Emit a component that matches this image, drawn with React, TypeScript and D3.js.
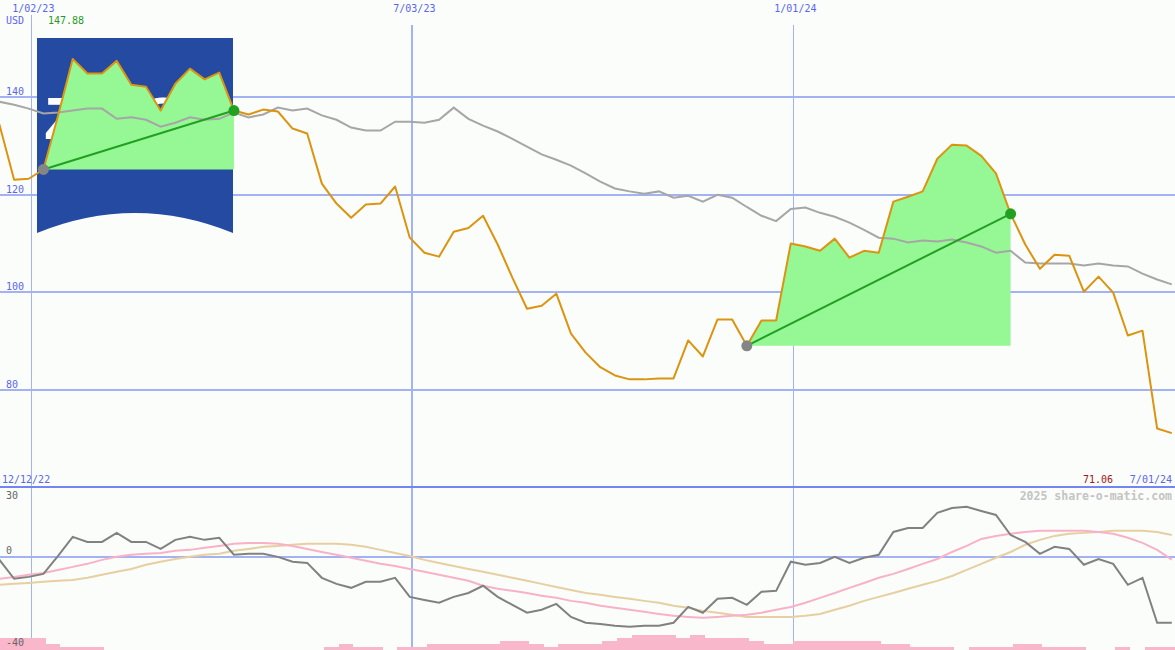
import React from "react";
import * as d3 from "d3";

// Weekly closing prices (USD), one per week, first week ending 12/11/22
const price: number[] = [
  135.2, 134.4, 123.1, 123.3, 125.2, 136.3, 147.88, 144.9, 144.9, 147.5,
  142.6, 142.2, 137.3, 142.8, 145.9, 143.7, 145.1, 137.3, 136.5, 137.5,
  137.1, 133.6, 132.6, 122.3, 118.2, 115.3, 118.0, 118.2, 121.7, 111.2,
  108.1, 107.3, 112.4, 113.2, 115.7, 109.8, 103.0, 96.6, 97.2, 99.7,
  91.5, 87.6, 84.6, 82.9, 82.1, 82.1, 82.3, 82.3, 90.1, 86.8,
  94.4, 94.4, 89.0, 94.2, 94.2, 110.0, 109.4, 108.5, 111.0, 107.1,
  108.5, 108.1, 118.6, 119.6, 120.7, 127.4, 130.3, 130.1, 128.0, 124.4,
  116.1, 109.8, 104.8, 107.7, 107.5, 100.1, 103.2, 99.9, 91.1, 92.1,
  72.0, 71.06,
];

// Moving average of the price
const movingAvg: number[] = [
  139.3, 139.1, 138.5, 137.7, 136.7, 136.9, 137.3, 137.7, 137.7, 135.6,
  135.9, 135.4, 134.0, 134.8, 135.9, 135.4, 135.6, 136.9, 135.9, 136.5,
  137.9, 137.3, 137.7, 136.3, 135.4, 133.8, 133.2, 133.2, 135.0, 135.0,
  134.8, 135.4, 137.9, 135.6, 134.2, 133.0, 131.5, 129.9, 128.3, 127.2,
  126.0, 124.4, 122.7, 121.3, 120.7, 120.2, 120.7, 119.4, 119.8, 118.6,
  120.0, 119.4, 117.5, 115.7, 114.6, 117.1, 117.4, 116.3, 115.5, 114.3,
  112.8, 111.2, 111.0, 110.2, 110.6, 110.4, 110.8, 110.2, 109.4, 108.1,
  108.5, 106.1, 105.9, 105.9, 105.9, 105.5, 105.9, 105.5, 105.3, 103.8,
  102.6, 101.6,
];

// Momentum oscillator and its two smoothings
const momentum: number[] = [
  1.7, -1.3, -9.4, -8.6, -7.3, 0.4, 8.6, 6.4, 6.4, 10.3,
  6.4, 6.4, 3.4, 7.3, 8.6, 7.3, 8.2, 0.9, 1.3, 1.3,
  0.0, -2.1, -2.6, -9.0, -11.6, -13.3, -10.7, -10.7, -9.0, -17.2,
  -18.5, -19.7, -17.2, -15.5, -12.4, -17.2, -20.6, -24.0, -22.7, -20.2,
  -25.8, -28.3, -28.8, -29.6, -30.0, -29.6, -29.6, -28.3, -21.5, -24.0,
  -18.0, -17.6, -20.6, -15.0, -14.6, -2.1, -3.4, -2.6, 0.0, -2.6,
  -0.4, 0.9, 10.7, 12.4, 12.4, 18.9, 21.0, 21.5, 19.7, 18.0,
  9.4, 6.4, 1.3, 4.3, 3.4, -3.4, -0.9, -3.0, -12.0, -9.0,
  -28.3, -28.3,
];

const signalFast: number[] = [
  -10.3, -9.4, -8.6, -7.7, -6.9, -5.6, -4.3, -3.0, -1.3, 0.0,
  0.9, 1.3, 1.7, 2.6, 3.0, 3.9, 4.7, 5.6, 6.0, 6.0,
  5.6, 4.7, 3.4, 2.1, 0.9, -0.4, -1.7, -3.0, -3.9, -5.2,
  -6.4, -7.7, -9.0, -10.3, -12.4, -13.7, -14.6, -15.5, -16.7, -17.6,
  -18.9, -19.7, -21.0, -21.9, -22.7, -23.6, -24.5, -25.3, -25.8, -26.2,
  -25.8, -25.3, -24.9, -24.0, -22.7, -21.5, -19.7, -17.6, -15.5, -13.3,
  -11.2, -9.0, -7.3, -5.2, -3.0, -0.9, 2.1, 4.7, 7.7, 9.0,
  9.9, 10.7, 11.2, 11.2, 11.2, 11.2, 10.7, 9.9, 8.2, 6.0,
  3.0, -1.2,
];

const signalSlow: number[] = [
  -12.4, -12.0, -11.6, -11.2, -10.7, -10.3, -9.9, -9.0, -7.7, -6.4,
  -5.2, -3.4, -2.1, -0.9, 0.0, 0.9, 1.3, 2.6, 3.4, 4.3,
  4.7, 5.2, 5.6, 5.6, 5.6, 5.2, 4.3, 3.0, 1.7, 0.4,
  -1.3, -2.6, -3.9, -5.2, -6.4, -7.7, -9.0, -10.3, -11.6, -12.9,
  -14.2, -15.5, -16.3, -17.2, -18.0, -18.9, -19.7, -21.0, -21.9, -23.2,
  -24.0, -24.9, -25.8, -25.8, -25.8, -25.8, -25.3, -24.5, -22.7, -21.0,
  -18.9, -17.2, -15.5, -13.7, -12.0, -10.3, -8.2, -5.6, -3.0, -0.4,
  2.1, 5.2, 7.3, 9.0, 9.9, 10.3, 10.7, 11.2, 11.2, 11.2,
  10.7, 9.4,
];

// Weekly volume level
const volume: number[] = [
  4, 4, 4, 4, 2, 1, 1, 1, 0, 0,
  0, 0, 0, 0, 0, 0, 0, 0, 0, 0,
  0, 0, 0, 1, 2, 1, 1, 0, 1, 1,
  2, 2, 2, 2, 2, 3, 3, 2, 1, 2,
  2, 2, 3, 4, 5, 5, 5, 4, 5, 4,
  4, 4, 3, 2, 2, 3, 3, 3, 3, 3,
  3, 2, 2, 1, 1, 1, 0, 1, 1, 1,
  2, 2, 1, 1, 1, 0, 0, 1, 0, 1,
  1, 1,
];

// Highlighted rallies: [start week, end week]
const rallies: [number, number][] = [
  [4, 17],
  [52, 70],
];

const tickDates = [new Date(2023, 0, 2), new Date(2023, 6, 3), new Date(2024, 0, 1)];
const tickLabels = ["1/02/23", "7/03/23", "1/01/24"];
const tickWidths = [1, 2, 1];
const priceTicks = [140, 120, 100, 80];
const oscTicks = [30, 0, -40];

const W = 1175;
const H = 650;
const MONO = "'DejaVu Sans Mono', 'Liberation Mono', monospace";

const weeks = d3.timeSunday.range(new Date(2022, 11, 11), new Date(2024, 6, 1));

export default function App() {
  const x = d3
    .scaleTime()
    .domain([weeks[0], weeks[weeks.length - 1]])
    .range([-15.2, 1171.8]);
  const yMain = d3.scaleLinear().domain([60, 160]).range([487, 0]);
  const yLow = d3.scaleLinear().domain([-40, 30]).range([650, 487]);
  const yVol = d3.scaleLinear().domain([0, 5]).range([650, 635]);

  const lineMain = d3
    .line<number>()
    .x((_, i) => x(weeks[i]))
    .y((d) => yMain(d));
  const lineLow = d3
    .line<number>()
    .x((_, i) => x(weeks[i]))
    .y((d) => yLow(d));

  const crisp = { shapeRendering: "crispEdges" as const };
  const blue = "#5a66ee";
  const grid = "#a3b2f2";

  return (
    <svg
      width={W}
      height={H}
      viewBox={`0 0 ${W} ${H}`}
      style={{ position: "absolute", left: 0, top: 0, background: "#fbfdfb" }}
      fontFamily={MONO}
      fontSize={10}
    >
      <rect width={W} height={H} fill="#fbfdfb" />

      {/* grid */}
      {priceTicks.map((t) => (
        <line key={t} x1={0} x2={W} y1={yMain(t)} y2={yMain(t)} stroke={grid} strokeWidth={2} {...crisp} />
      ))}
      <line x1={0} x2={W} y1={yLow(0)} y2={yLow(0)} stroke={grid} strokeWidth={2} {...crisp} />
      {tickDates.map((d, k) => {
        const gx = Math.round(x(d)) + (tickWidths[k] === 1 ? 0.5 : 0);
        return (
          <line
            key={k}
            x1={gx}
            x2={gx}
            y1={k === 0 ? 15 : 25}
            y2={H}
            stroke={grid}
            strokeWidth={tickWidths[k]}
            {...crisp}
          />
        );
      })}
      <line x1={0} x2={W} y1={486.5} y2={486.5} stroke="#7484f0" strokeWidth={2} {...crisp} />

      {/* volume bars */}
      {volume.map((v, i) =>
        v > 0 ? (
          <rect
            key={i}
            x={x(d3.timeDay.offset(weeks[i], 1))}
            width={x(d3.timeDay.offset(weeks[i], 8)) - x(d3.timeDay.offset(weeks[i], 1))}
            y={yVol(v)}
            height={yVol(0) - yVol(v)}
            fill="#f9b7cb"
            {...crisp}
          />
        ) : null
      )}

      {/* company logo */}
      <path d="M37,38 H233 V233 Q135,193 37,233 Z" fill="#254aa2" />
      <text
        x={44}
        y={139}
        fill="#ffffff"
        fontFamily="'Liberation Sans', Arial, sans-serif"
        fontWeight="bold"
        fontSize={60}
        textLength={182}
        lengthAdjust="spacingAndGlyphs"
      >
        ZEISS
      </text>

      {/* rally areas */}
      {rallies.map(([s, e], k) => {
        const seg = price.slice(s, e + 1);
        const area = d3
          .area<number>()
          .x((_, j) => x(weeks[s + j]))
          .y0(yMain(price[s]))
          .y1((d) => yMain(d));
        return <path key={k} d={area(seg) || ""} fill="#95f895" />;
      })}

      {/* moving average */}
      <path d={lineMain(movingAvg) || ""} fill="none" stroke="#a6a6a6" strokeWidth={2} />

      {/* price */}
      <path d={lineMain(price) || ""} fill="none" stroke="#dc9410" strokeWidth={2} strokeLinejoin="round" />

      {/* rally trend lines and markers */}
      {rallies.map(([s, e], k) => (
        <g key={k}>
          <line
            x1={x(weeks[s])}
            y1={yMain(price[s])}
            x2={x(weeks[e])}
            y2={yMain(price[e])}
            stroke="#22a022"
            strokeWidth={2}
          />
          <circle cx={x(weeks[s])} cy={yMain(price[s])} r={5.5} fill="#858585" />
          <circle cx={x(weeks[e])} cy={yMain(price[e])} r={5.5} fill="#22a022" />
        </g>
      ))}

      {/* oscillator */}
      <path d={lineLow(signalSlow) || ""} fill="none" stroke="#e6cfa0" strokeWidth={2} />
      <path d={lineLow(signalFast) || ""} fill="none" stroke="#f8b2c8" strokeWidth={2} />
      <path d={lineLow(momentum) || ""} fill="none" stroke="#818181" strokeWidth={2} />

      {/* labels */}
      {tickDates.map((d, k) => (
        <text key={k} x={x(d) + 2.5} y={12} fill={blue} textAnchor="middle">
          {tickLabels[k]}
        </text>
      ))}
      <text x={6} y={24} fill={blue}>USD</text>
      <text x={48} y={24} fill="#1f9a1f">{d3.format(".2f")(d3.max(price) as number)}</text>
      {priceTicks.map((t) => (
        <text key={t} x={6} y={yMain(t) - 2} fill={blue}>
          {t}
        </text>
      ))}
      <text x={2} y={483} fill={blue}>12/12/22</text>
      <text x={1113} y={483} fill="#a01818" textAnchor="end">
        {d3.format(".2f")(price[price.length - 1])}
      </text>
      <text x={1172} y={483} fill={blue} textAnchor="end">7/01/24</text>
      <text x={1172} y={500} fill="#c4c4c4" textAnchor="end" fontWeight="bold" fontSize={11.5}>
        2025 share-o-matic.com
      </text>
      {oscTicks.map((t) => (
        <text key={t} x={6} y={t === 30 ? 499 : t === 0 ? 554 : 646} fill="#666666">
          {t}
        </text>
      ))}
    </svg>
  );
}
